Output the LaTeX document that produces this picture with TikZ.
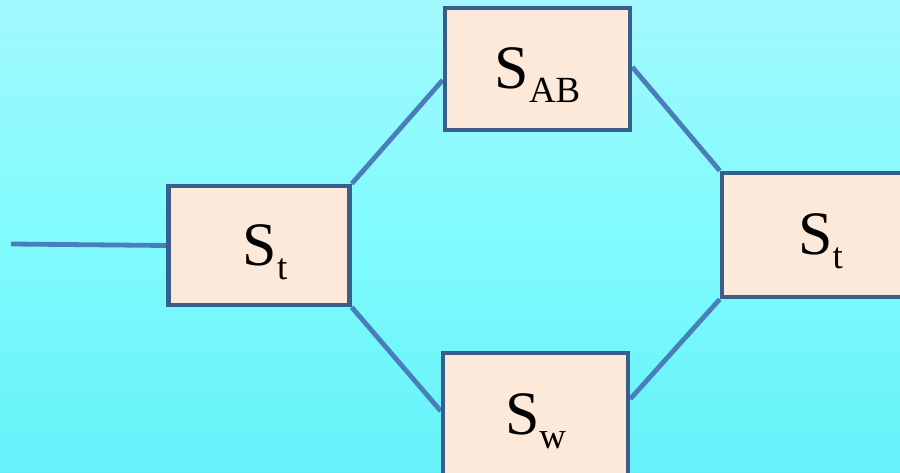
\documentclass[tikz,border=0pt]{standalone}
\usepackage{fontspec}
\setmainfont{Liberation Serif}
\newfontfamily\lblfont{Liberation Serif}
\usetikzlibrary{backgrounds}
\definecolor{bgtop}{HTML}{A2F8FC}
\definecolor{bgmid}{HTML}{80FBFE}
\definecolor{bgbot}{HTML}{64F2F8}
\definecolor{boxfill}{HTML}{FDE9D9}
\definecolor{boxline}{HTML}{3A5E8C}
\definecolor{wire}{HTML}{4A7EBB}
\newcommand{\lbl}[1]{\lblfont\fontsize{62}{70}\selectfont S\raisebox{-14bp}{\fontsize{37}{40}\selectfont #1}}
\tikzset{
  sbox/.style={draw=boxline, fill=boxfill, line width=4.5bp, rectangle, inner sep=0pt,
    text height=42bp, text depth=2bp, align=center, font=\lblfont},
  wireline/.style={draw=wire, line width=4.8bp}
}
\begin{document}
\begin{tikzpicture}[x=1bp,y=-1bp]
\useasboundingbox (0,0) rectangle (900,473);
\node[sbox, minimum width=181bp, minimum height=119bp] (stl) at (259,245.5) {\hspace{12bp}\lbl{t}};
\node[sbox, minimum width=185bp, minimum height=122bp] (sab) at (537.5,69) {\lbl{AB}};
\node[sbox, minimum width=183bp, minimum height=124bp] (str) at (813.5,235) {\hspace{14bp}\lbl{t}};
\node[sbox, minimum width=185bp, minimum height=122bp] (sw) at (535.5,414) {\lbl{w}};
\coordinate (in) at (11,244);
\begin{scope}[on background layer]
  \shade[top color=bgtop, bottom color=bgbot, middle color=bgmid] (0,0) rectangle (900,473);
  \draw[wireline] (in) -- (stl.west);
  \draw[wireline] (stl.north east) -- ([yshift=-11bp]sab.west);
  \draw[wireline] ([yshift=2bp]sab.east) -- (str.north west);
  \draw[wireline] (stl.south east) -- ([yshift=3bp]sw.west);
  \draw[wireline] ([yshift=15bp]sw.east) -- (str.south west);
\end{scope}
\end{tikzpicture}
\end{document}
